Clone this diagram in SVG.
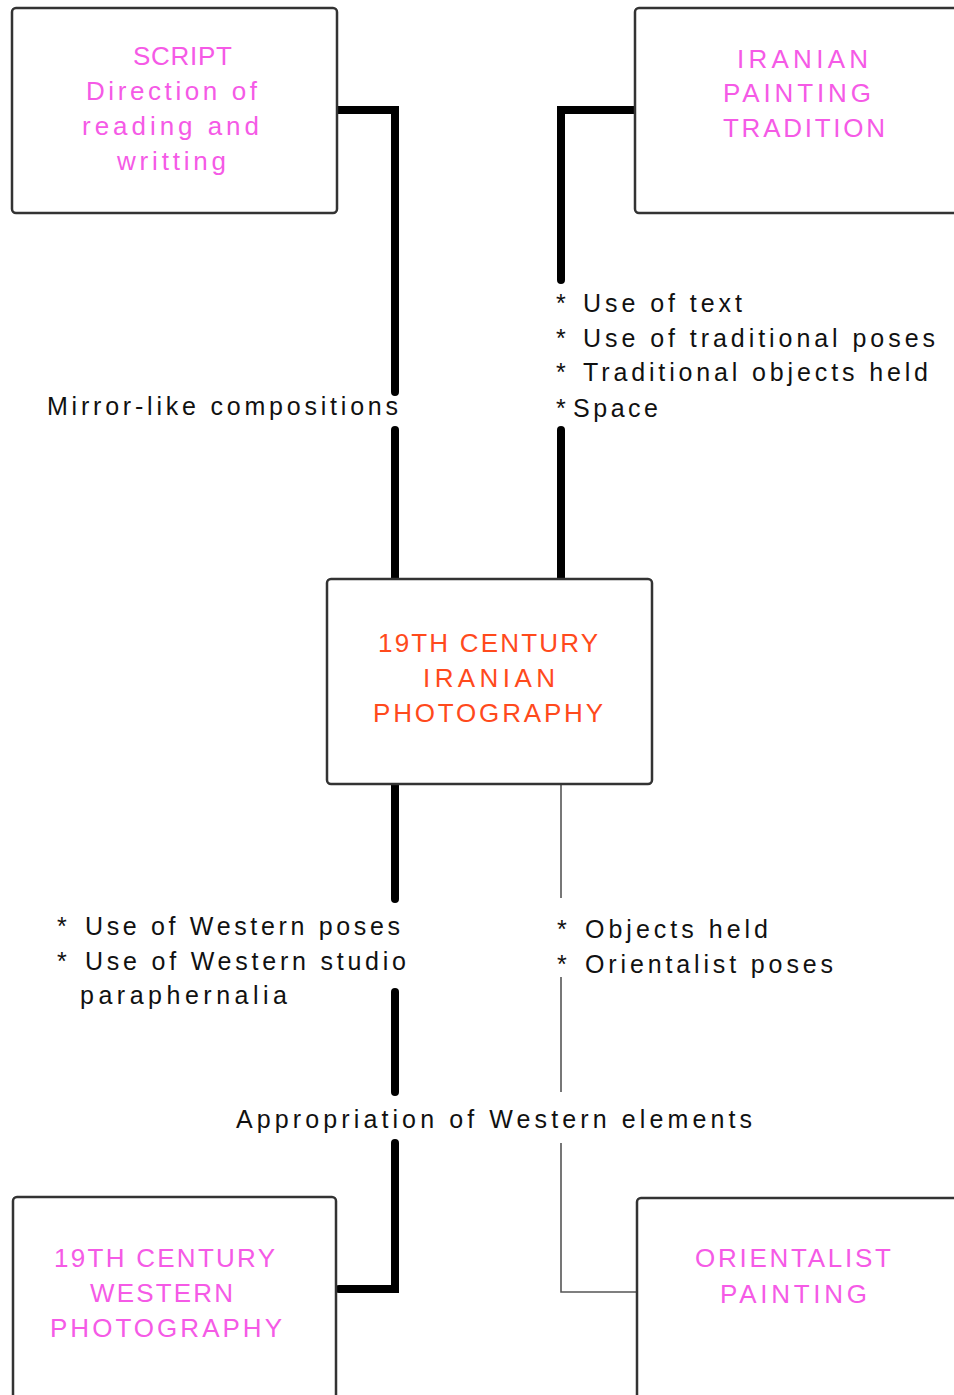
<svg xmlns="http://www.w3.org/2000/svg" width="954" height="1395" viewBox="0 0 954 1395">
<style>
.box{fill:#fff;stroke:#333;stroke-width:2.5}
.pink{fill:#f55ae6;font-family:"Liberation Sans",Arial,sans-serif;font-size:26px}
.red{fill:#ff4a1c;font-family:"Liberation Sans",Arial,sans-serif;font-size:26px}
.lbl{fill:#111;font-family:"Liberation Sans",Arial,sans-serif;font-size:25px}
.thick{fill:none;stroke:#000;stroke-width:8;stroke-linecap:round;stroke-linejoin:miter}
.thin{fill:none;stroke:#555;stroke-width:1.6}
</style>
<rect width="954" height="1395" fill="#fff"/>
<g id="connectors">
<path class="thick" d="M337,110 H395 V392"/>
<path class="thick" d="M395,430 V579"/>
<path class="thick" d="M635,110 H561 V280"/>
<path class="thick" d="M561,430 V579"/>
<path class="thick" d="M395,784 V899"/>
<path class="thick" d="M395,992 V1092"/>
<path class="thick" d="M395,1143 V1289 H339"/>
<path class="thin" d="M561,784 V898"/>
<path class="thin" d="M561,977 V1092"/>
<path class="thin" d="M561,1143 V1292 H637"/>
</g>
<g id="script">
<rect class="box" x="12" y="8" width="325" height="205" rx="4"/>
<text class="pink" x="133" y="65" textLength="99" lengthAdjust="spacing">SCRIPT</text>
<text class="pink" x="86" y="100" textLength="171" lengthAdjust="spacing">Direction of</text>
<text class="pink" x="82" y="135" textLength="177" lengthAdjust="spacing">reading and</text>
<text class="pink" x="117" y="170" textLength="109" lengthAdjust="spacing">writting</text>
</g>
<g id="iranian-painting">
<rect class="box" x="635" y="8" width="335" height="205" rx="4"/>
<text class="pink" x="737" y="68" textLength="131" lengthAdjust="spacing">IRANIAN</text>
<text class="pink" x="723" y="102" textLength="148" lengthAdjust="spacing">PAINTING</text>
<text class="pink" x="723" y="137" textLength="162" lengthAdjust="spacing">TRADITION</text>
</g>
<g id="iranian-photography">
<rect class="box" x="327" y="579" width="325" height="205" rx="4"/>
<text class="red" x="378" y="652" textLength="220" lengthAdjust="spacing">19TH CENTURY</text>
<text class="red" x="423" y="687" textLength="132" lengthAdjust="spacing">IRANIAN</text>
<text class="red" x="373" y="722" textLength="230" lengthAdjust="spacing">PHOTOGRAPHY</text>
</g>
<g id="western-photography">
<rect class="box" x="13" y="1197" width="323" height="230" rx="4"/>
<text class="pink" x="54" y="1267" textLength="221" lengthAdjust="spacing">19TH CENTURY</text>
<text class="pink" x="90" y="1302" textLength="143" lengthAdjust="spacing">WESTERN</text>
<text class="pink" x="50" y="1337" textLength="232" lengthAdjust="spacing">PHOTOGRAPHY</text>
</g>
<g id="orientalist-painting">
<rect class="box" x="637" y="1198" width="335" height="230" rx="4"/>
<text class="pink" x="695" y="1267" textLength="196" lengthAdjust="spacing">ORIENTALIST</text>
<text class="pink" x="720" y="1303" textLength="147" lengthAdjust="spacing">PAINTING</text>
</g>
<g id="labels">
<text class="lbl" x="47" y="415" textLength="351" lengthAdjust="spacing">Mirror-like compositions</text>
<text class="lbl" x="556" y="312">*</text>
<text class="lbl" x="583" y="312" textLength="159" lengthAdjust="spacing">Use of text</text>
<text class="lbl" x="556" y="347">*</text>
<text class="lbl" x="583" y="347" textLength="352" lengthAdjust="spacing">Use of traditional poses</text>
<text class="lbl" x="556" y="381">*</text>
<text class="lbl" x="583" y="381" textLength="345" lengthAdjust="spacing">Traditional objects held</text>
<text class="lbl" x="556" y="417">*</text>
<text class="lbl" x="573" y="417" textLength="85" lengthAdjust="spacing">Space</text>
<text class="lbl" x="57" y="935">*</text>
<text class="lbl" x="85" y="935" textLength="315" lengthAdjust="spacing">Use of Western poses</text>
<text class="lbl" x="57" y="970">*</text>
<text class="lbl" x="85" y="970" textLength="321" lengthAdjust="spacing">Use of Western studio</text>
<text class="lbl" x="80" y="1004" textLength="207" lengthAdjust="spacing">paraphernalia</text>
<text class="lbl" x="557" y="938">*</text>
<text class="lbl" x="585" y="938" textLength="183" lengthAdjust="spacing">Objects held</text>
<text class="lbl" x="557" y="973">*</text>
<text class="lbl" x="585" y="973" textLength="248" lengthAdjust="spacing">Orientalist poses</text>
<text class="lbl" x="236" y="1128" textLength="516" lengthAdjust="spacing">Appropriation of Western elements</text>
</g>
</svg>
